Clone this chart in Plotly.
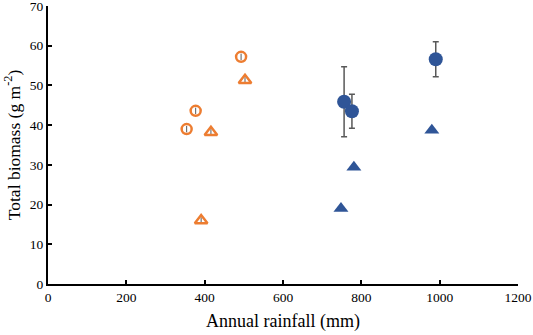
import plotly.graph_objects as go

# Orange open circles
oc_x = [354, 377, 493]
oc_y = [39.0, 43.6, 57.2]
oc_err = [0.8, 0.8, 0.8]
# Orange open triangles
ot_x = [391, 416, 503]
ot_y = [16.0, 38.2, 51.3]
ot_err = [0.8, 0.8, 0.8]
# Blue filled circles
bc_x = [756, 776, 990]
bc_y = [45.9, 43.5, 56.6]
bc_err = [8.8, 4.3, 4.4]
# Blue filled triangles
bt_x = [748, 781, 980]
bt_y = [19.0, 29.4, 38.7]

x_ticks = [0, 200, 400, 600, 800, 1000, 1200]
y_ticks = [0, 10, 20, 30, 40, 50, 60, 70]

ORANGE = "#ED7D31"
BLUE = "#2F5597"
GREY = "#595959"

fig = go.Figure()
fig.add_trace(go.Scatter(
    x=oc_x, y=oc_y, mode="markers",
    error_y=dict(type="data", array=oc_err, color=GREY, thickness=1, width=0),
    marker=dict(symbol="circle-open", size=10, color=ORANGE, line=dict(width=2.5, color=ORANGE)),
))
fig.add_trace(go.Scatter(
    x=ot_x, y=ot_y, mode="markers",
    error_y=dict(type="data", array=ot_err, color=GREY, thickness=1, width=0),
    marker=dict(symbol="triangle-up-open", size=11, color=ORANGE, line=dict(width=2.5, color=ORANGE)),
))
fig.add_trace(go.Scatter(
    x=bc_x, y=bc_y, mode="markers",
    error_y=dict(type="data", array=bc_err, color=GREY, thickness=1.5, width=3),
    marker=dict(symbol="circle", size=14, color=BLUE),
))
fig.add_trace(go.Scatter(
    x=bt_x, y=bt_y, mode="markers",
    marker=dict(symbol="triangle-up", size=13, color=BLUE),
))

font_family = "Liberation Serif, Times New Roman, serif"
fig.update_layout(
    width=533, height=335,
    margin=dict(l=48, r=15, t=6, b=51, autoexpand=False),
    paper_bgcolor="white", plot_bgcolor="white",
    showlegend=False,
    font=dict(family=font_family, color="black", size=13),
    xaxis=dict(
        range=[0, 1200], tickvals=x_ticks, showgrid=False, zeroline=False,
        showline=True, linecolor="black", linewidth=2, automargin=False,
        ticks="inside", ticklen=4, tickwidth=1.5, tickcolor="black",
        ticklabeloverflow="allow",
        tickfont=dict(size=13.5, family=font_family),
        title=dict(text="Annual rainfall (mm)", font=dict(size=18, family=font_family), standoff=10),
    ),
    yaxis=dict(
        range=[0, 70], tickvals=y_ticks, showgrid=False, zeroline=False,
        showline=True, linecolor="black", linewidth=2, automargin=False,
        ticks="inside", ticklen=4, tickwidth=1.5, tickcolor="black",
        ticklabeloverflow="allow",
        tickfont=dict(size=13.5, family=font_family),
        title=dict(text="Total biomass (g m<sup>-2</sup>)", font=dict(size=17.5, family=font_family), standoff=5),
    ),
)

fig.write_html("out.html", config={"displayModeBar": False},
               post_script="document.body.style.margin='0';")
